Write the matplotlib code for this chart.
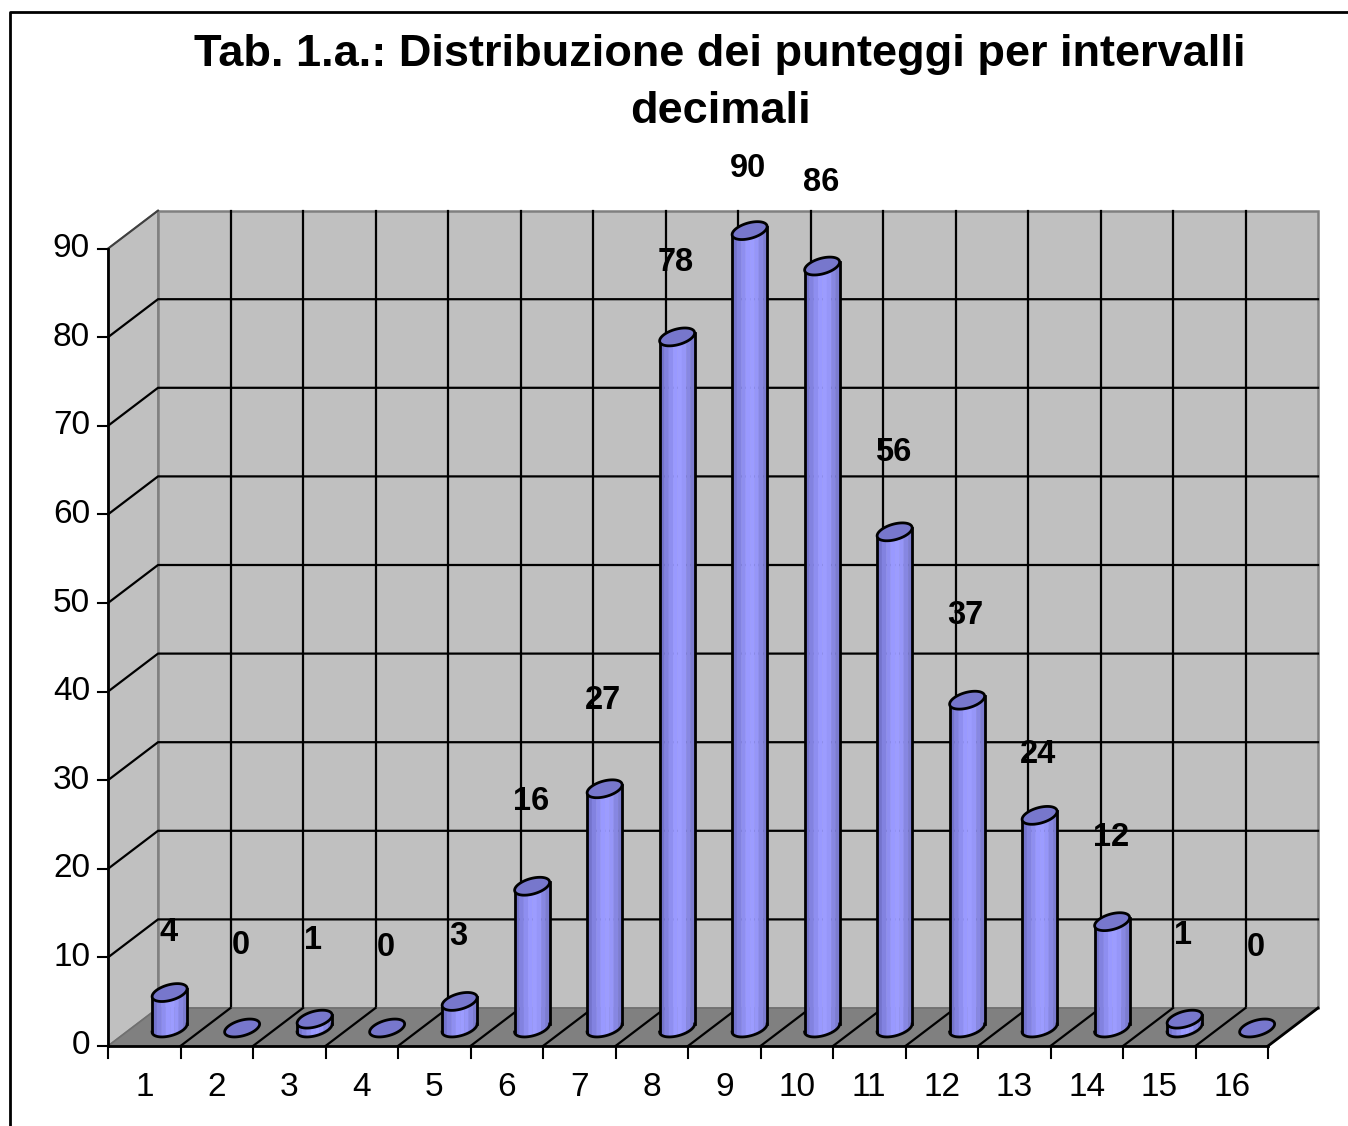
import matplotlib
matplotlib.use('Agg')
import matplotlib.pyplot as plt
import numpy as np

plt.rcParams['font.family'] = ['Liberation Sans', 'DejaVu Sans']

categories = list(range(1, 17))
values = [4, 0, 1, 0, 3, 16, 27, 78, 90, 86, 56, 37, 24, 12, 1, 0]
y_ticks = [0, 10, 20, 30, 40, 50, 60, 70, 80, 90]
title = 'Tab. 1.a.: Distribuzione dei punteggi per intervalli\ndecimali'

# how far each number floats above its bar, in pixels (they are uneven in the original)
label_lift = [60, 83, 79, 80, 65, 85, 88, 74, 62, 84, 79, 85, 61, 84, 84, 81]

# pixels per unit
PX_X = 72.5
PX_Y = 8.86
depth_x = 50 / PX_X
depth_y = 38 / PX_Y

fig = plt.figure(figsize=(13.48, 11.26), dpi=100)
ax = fig.add_axes([0, 0, 1, 1])
ax.set_xlim(-108 / PX_X, (1348 - 108) / PX_X)
ax.set_ylim(-80 / PX_Y, 1046 / PX_Y)
ax.axis('off')

n = len(categories)
top = y_ticks[-1]

# outer frame of the chart
ax.plot([-98 / PX_X, -98 / PX_X, 1348 / PX_X], [-80 / PX_Y, 1034 / PX_Y, 1034 / PX_Y],
        color='black', lw=2, zorder=1, clip_on=False)

# walls and floor
ax.fill([0, 0, depth_x, depth_x], [0, top, top + depth_y, depth_y],
        facecolor='#c0c0c0', edgecolor='#808080', lw=1.2, zorder=1)
ax.fill([depth_x, depth_x, n + depth_x, n + depth_x],
        [depth_y, top + depth_y, top + depth_y, depth_y],
        facecolor='#c0c0c0', edgecolor='#808080', lw=1.8, zorder=1)

# grid on the walls
for v in y_ticks[1:-1]:
    ax.plot([0, depth_x, n + depth_x], [v, v + depth_y, v + depth_y], color='black', lw=1.6, zorder=2)
ax.plot([0, depth_x], [top, top + depth_y], color='#404040', lw=1.5, zorder=2)
for i in range(1, n):
    ax.plot([i + depth_x, i + depth_x], [depth_y, top + depth_y], color='black', lw=1.6, zorder=2)

ax.fill([0, n, n + depth_x, depth_x], [0, 0, depth_y, depth_y],
        facecolor='#808080', edgecolor='#707070', lw=1.2, zorder=3)
for i in range(1, n):
    ax.plot([i, i + depth_x], [0, depth_y], color='black', lw=1.6, zorder=3)
ax.plot([n, n + depth_x], [0, depth_y], color='black', lw=2, zorder=3)

# axes
ax.plot([0, 0], [0, top], color='black', lw=2, zorder=4)
ax.plot([0, n], [0, 0], color='black', lw=2, zorder=4)
for v in y_ticks:
    ax.plot([-10 / PX_X, 0], [v, v], color='black', lw=1.5, zorder=4)
    ax.text(-18 / PX_X, v, str(v), ha='right', va='center', fontsize=24, color='black')
for i in range(n + 1):
    ax.plot([i, i], [0, -12 / PX_Y], color='black', lw=1.5, zorder=4)
for i, c in enumerate(categories):
    ax.text(i + 0.5, -41 / PX_Y, str(c), ha='center', va='center', fontsize=24, color='black')

# cylinders
a = 17.5 / PX_X
e = 4 / PX_Y
f = 8 / PX_Y
t_low = np.linspace(np.pi, 2 * np.pi, 41)
ramp = ['#7474cc', '#8282e0', '#8e8ef0', '#9999ff', '#9c9cff', '#9696f8', '#8787e2', '#7c7cd0']

for i, v in enumerate(values):
    cx = i + 0.85
    cy = 18 / PX_Y
    xs = cx + a * np.cos(t_low)
    low = cy + e * np.cos(t_low) + f * np.sin(t_low)
    z = 5 + i * 0.01
    if v > 0:
        # shaded side of the cylinder, strip by strip
        edges = np.linspace(cx - a, cx + a, len(ramp) + 1)
        for k, col in enumerate(ramp):
            m = np.linspace(edges[k], edges[k + 1], 8)
            t = np.arccos(np.clip((m - cx) / a, -1, 1))
            lo = cy + e * np.cos(t) - f * np.sin(t)
            ax.fill_between(m, lo, lo + v, color=col, lw=0.3, zorder=z)
        ax.plot(xs, low, color='black', lw=2, zorder=z)
        ax.plot([cx - a, cx - a], [cy - e, cy - e + v], color='black', lw=2, zorder=z)
        ax.plot([cx + a, cx + a], [cy + e, cy + e + v], color='black', lw=2, zorder=z)
    tt = np.linspace(0, 2 * np.pi, 81)
    ax.fill(cx + a * np.cos(tt), cy + v + e * np.cos(tt) + f * np.sin(tt),
            facecolor='#7777cc', edgecolor='black', lw=2, zorder=z + 0.001)
    ax.text(cx - 0.02, cy + v + label_lift[i] / PX_Y, str(v), ha='center', va='center',
            fontsize=23.5, fontweight='bold', color='black', zorder=6)

ax.text(612 / PX_X, 963 / PX_Y, title, ha='center', va='center',
        fontsize=32.5, fontweight='bold', color='black', linespacing=1.48, zorder=6)

fig.savefig('out.png', dpi=100)
